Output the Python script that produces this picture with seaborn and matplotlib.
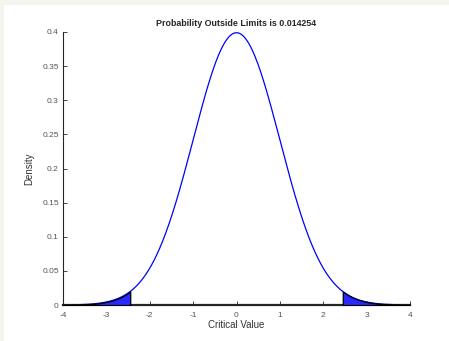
import numpy as np
import pandas as pd
import matplotlib
matplotlib.use('Agg')
import matplotlib.pyplot as plt
import seaborn as sns
from matplotlib.patches import Rectangle

# normal distribution and the two-sided limit
mu = 0.0
sigma = 1.0
limit = 2.45
prob_outside = 0.014254
x_ticks = [-4, -3, -2, -1, 0, 1, 2, 3, 4]
y_ticks = [0, 0.05, 0.1, 0.15, 0.2, 0.25, 0.3, 0.35, 0.4]
y_tick_labels = ['0', '0.05', '0.1', '0.15', '0.2', '0.25', '0.3', '0.35', '0.4']

x = np.linspace(-4, 4, 801)
dens = np.exp(-0.5 * ((x - mu) / sigma) ** 2) / (sigma * np.sqrt(2 * np.pi))
curve = pd.DataFrame({'Critical Value': x, 'Density': dens})

sns.set_style('ticks')
plt.rcParams['font.family'] = ['Liberation Sans', 'DejaVu Sans']

fig = plt.figure(figsize=(4.49, 3.41), dpi=100)
fig.patch.set_facecolor('#f5f5f0')
fig.patches.append(Rectangle((4 / 449, 0), 1 - 4 / 449, 1 - 5 / 341,
                             transform=fig.transFigure, facecolor='white',
                             edgecolor='none', zorder=-1))
ax = fig.add_axes([63 / 449, 1 - 305 / 341, 347 / 449, 273 / 341])
ax.set_facecolor('white')

sns.lineplot(data=curve, x='Critical Value', y='Density', color='blue',
             linewidth=0.9, ax=ax)

left = curve[curve['Critical Value'] <= -limit]
right = curve[curve['Critical Value'] >= limit]
for part in (left, right):
    ax.fill_between(part['Critical Value'], 0, part['Density'],
                    facecolor='#2a2aff', edgecolor='black', linewidth=0.9,
                    zorder=3)

ax.set_xlim(-4, 4)
ax.set_ylim(0, 0.4)
ax.set_xticks(x_ticks)
ax.set_xticklabels([str(t) for t in x_ticks])
ax.set_yticks(y_ticks)
ax.set_yticklabels(y_tick_labels)
ax.tick_params(direction='in', length=3, width=0.6, labelsize=6,
               labelcolor='#555555', pad=3)
ax.tick_params(axis='x', pad=5)
sns.despine(ax=ax)
ax.spines['left'].set_linewidth(0.8)
ax.spines['bottom'].set_linewidth(1.6)
ax.set_xlabel('Critical Value', fontsize=7, color='#333333', labelpad=1)
ax.set_ylabel('Density', fontsize=7, color='#333333', labelpad=6)
ax.set_title('Probability Outside Limits is %.6f' % prob_outside,
             fontsize=6.4, fontweight='bold', pad=4)

fig.savefig('out.png', dpi=100)
